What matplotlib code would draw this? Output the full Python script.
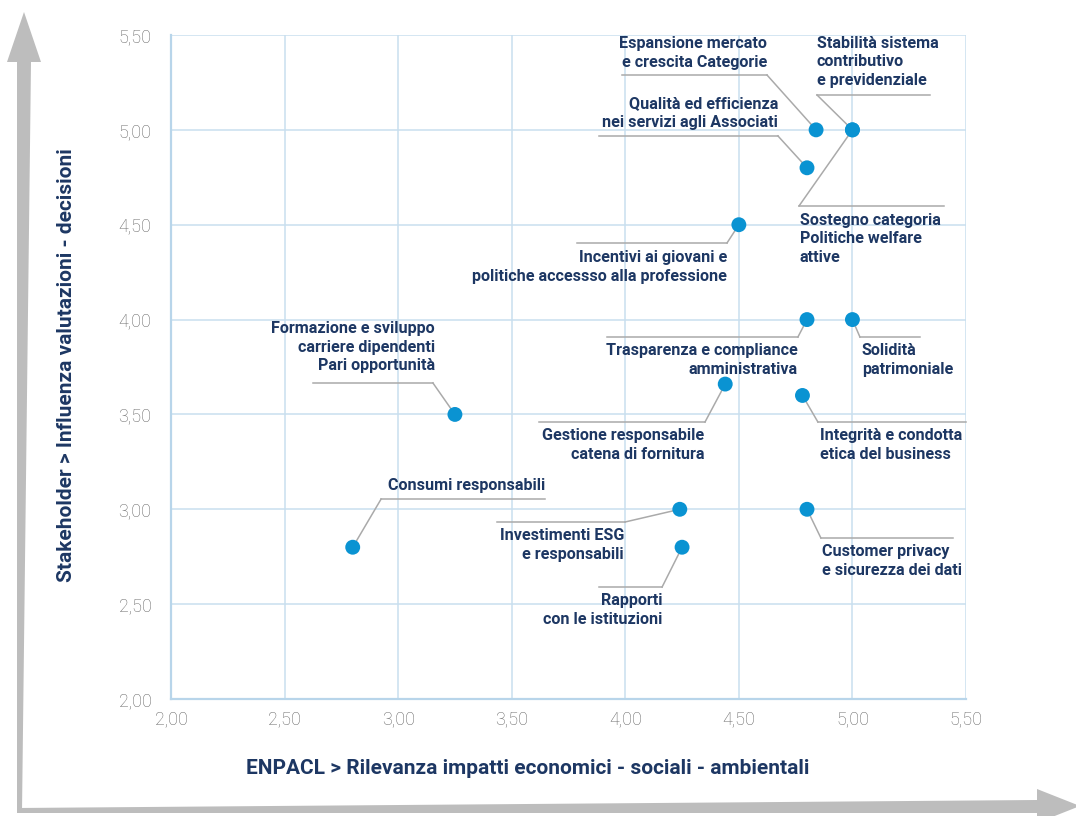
import matplotlib
matplotlib.use('Agg')
import matplotlib.pyplot as plt
from matplotlib.patches import Polygon
from matplotlib.ticker import FuncFormatter

# ── Data ─────────────────────────────────────────────────────────────────────
topics = [
    'Espansione mercato\ne crescita Categorie',
    'Stabilità sistema\ncontributivo\ne previdenziale',
    'Qualità ed efficienza\nnei servizi agli Associati',
    'Sostegno categoria\nPolitiche welfare\nattive',
    'Incentivi ai giovani e\npolitiche accessso alla professione',
    'Trasparenza e compliance\namministrativa',
    'Solidità\npatrimoniale',
    'Formazione e sviluppo\ncarriere dipendenti\nPari opportunità',
    'Gestione responsabile\ncatena di fornitura',
    'Integrità e condotta\netica del business',
    'Consumi responsabili',
    'Investimenti ESG\ne responsabili',
    'Rapporti\ncon le istituzioni',
    'Customer privacy\ne sicurezza dei dati',
]
impact = [4.84, 5.00, 4.80, 5.00, 4.50, 4.80, 5.00, 3.25, 4.44, 4.78, 2.80, 4.24, 4.25, 4.80]
influence = [5.00, 5.00, 4.80, 5.00, 4.50, 4.00, 4.00, 3.50, 3.66, 3.60, 2.80, 3.00, 2.80, 3.00]

ticks = [2.0, 2.5, 3.0, 3.5, 4.0, 4.5, 5.0, 5.5]

# ── Label layout: (text x, text y, ha, line y, line x0, line x1, elbow x) ───
layout = [
    (4.624, 5.405, 'right', 5.289, 3.986, 4.624, 4.624),
    (4.844, 5.358, 'left',  5.184, 4.844, 5.342, 4.844),
    (4.672, 5.089, 'right', 4.968, 3.884, 4.672, 4.672),
    (4.769, 4.425, 'left',  4.599, 4.765, 5.403, 4.765),
    (4.448, 4.277, 'right', 4.404, 3.787, 4.448, 4.448),
    (4.760, 3.787, 'right', 3.908, 3.920, 4.760, 4.760),
    (5.042, 3.787, 'left',  3.908, 5.033, 5.298, 5.033),
    (3.162, 3.855, 'right', 3.666, 2.625, 3.153, 3.153),
    (4.347, 3.339, 'right', 3.460, 3.620, 4.351, 4.351),
    (4.857, 3.339, 'left',  3.460, 4.848, 5.500, 4.848),
    (3.647, 3.123, 'right', 3.054, 2.925, 3.647, 2.925),
    (3.994, 2.812, 'right', 2.933, 3.435, 3.999, 3.999),
    (4.162, 2.469, 'right', 2.590, 3.884, 4.162, 4.162),
    (4.866, 2.727, 'left',  2.849, 4.861, 5.443, 4.861),
]

NAVY = '#1d3763'
DOT = '#0a93d2'
GRID = '#c9dfef'
LEADER = '#aaaaaa'
ARROW = '#bdbdbd'

W, H = 1076, 816
fig = plt.figure(figsize=(W / 100, H / 100), dpi=100)
fig.patch.set_facecolor('white')


def px(x, y):
    return (x / W, 1 - y / H)


# ── Background arrows ─────────────────────────────────────────────────────────
v_arrow = [px(24, 12), px(41, 62), px(31, 62), px(22, 812), px(17, 812),
           px(17, 62), px(7, 62)]
h_arrow = [px(17, 808), px(1037, 800), px(1037, 789), px(1080, 806),
           px(1037, 823), px(1037, 813), px(17, 813)]
fig.patches.append(Polygon(v_arrow, closed=True, transform=fig.transFigure,
                           facecolor=ARROW, edgecolor='none', zorder=0))
fig.patches.append(Polygon(h_arrow, closed=True, transform=fig.transFigure,
                           facecolor=ARROW, edgecolor='none', zorder=0))

# ── Axes ─────────────────────────────────────────────────────────────────────
ax = fig.add_axes([171 / W, 1 - 699 / H, (966 - 171) / W, (699 - 35) / H])
ax.set_facecolor('none')
ax.set_xlim(2.0, 5.5)
ax.set_ylim(2.0, 5.5)
ax.set_xticks(ticks)
ax.set_yticks(ticks)
fmt = FuncFormatter(lambda v, _: f'{v:.2f}'.replace('.', ','))
ax.xaxis.set_major_formatter(fmt)
ax.yaxis.set_major_formatter(fmt)
ax.grid(True, color=GRID, lw=1.1, zorder=0)
ax.set_axisbelow(True)
for s in ['top', 'right']:
    ax.spines[s].set_visible(False)
for s in ['left', 'bottom']:
    ax.spines[s].set_color('#b8d5ea')
    ax.spines[s].set_linewidth(1.6)
ax.tick_params(length=0, labelsize=13, labelcolor='#666666')
ax.tick_params(axis='y', pad=14)
ax.tick_params(axis='x', pad=8)
for lab in ax.get_xticklabels() + ax.get_yticklabels():
    lab.set_fontfamily('Roboto')
    lab.set_fontweight('light')

# ── Leader lines and labels ──────────────────────────────────────────────────
for name, x, y, (tx, ty, ha, ly, lx0, lx1, ex) in zip(topics, impact, influence, layout):
    ax.plot([lx0, lx1], [ly, ly], color=LEADER, lw=1.1, clip_on=False, zorder=2)
    ax.plot([ex, x], [ly, y], color=LEADER, lw=1.1, clip_on=False, zorder=2)
    ax.text(tx, ty, name, ha=ha, va='center', color=NAVY, fontsize=11.6,
            fontweight='bold', family='Roboto', linespacing=1.28, zorder=4)

ax.scatter(impact, influence, s=115, color=DOT, edgecolors='none', zorder=5,
           clip_on=False)

# ── Axis titles ──────────────────────────────────────────────────────────────
fig.text(*px(67, 365), 'Stakeholder > Influenza valutazioni - decisioni',
         rotation=90, ha='center', va='center', color=NAVY, fontsize=15,
         fontweight='bold', family='Roboto')
fig.text(*px(528, 769), 'ENPACL > Rilevanza impatti economici - sociali - ambientali',
         ha='center', va='center', color=NAVY, fontsize=15,
         fontweight='bold', family='Roboto')

fig.savefig('out.png', dpi=100, facecolor='white')
